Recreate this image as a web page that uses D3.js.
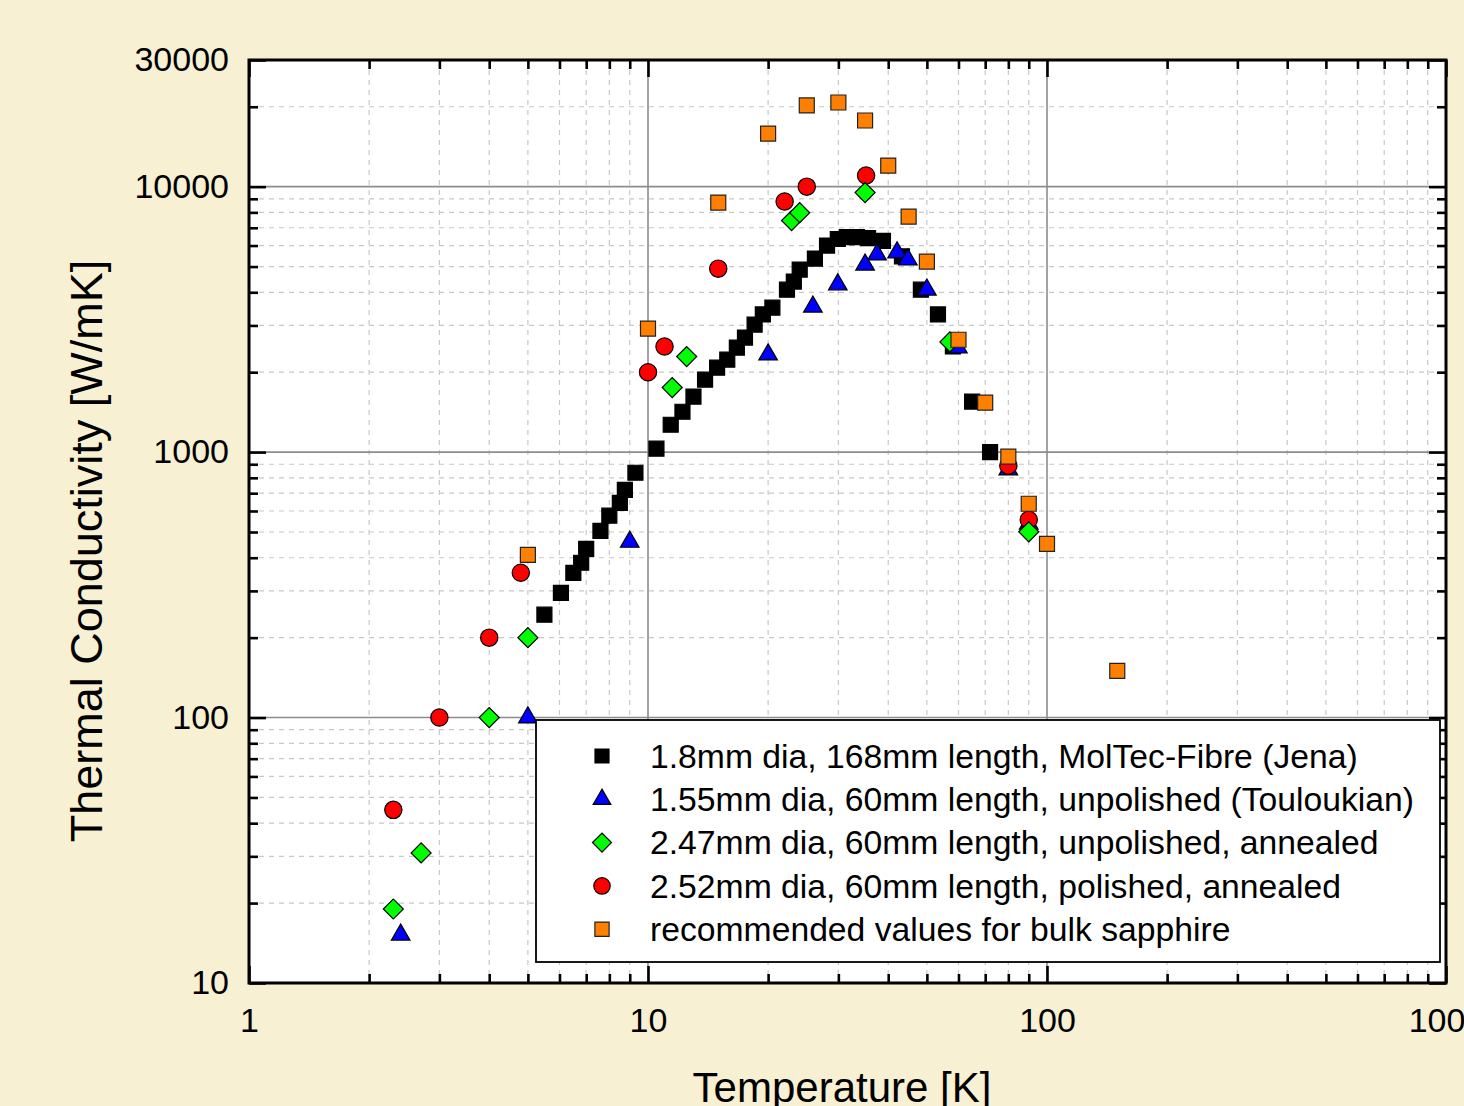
<!DOCTYPE html>
<html lang="en">
<head>
    <meta charset="UTF-8">
    <title>Thermal Conductivity of Sapphire</title>
    <script src="https://cdn.jsdelivr.net/npm/d3@7"></script>
    <style>
        body { margin: 0; background: #f7f0d2; }
        text { font-family: "Liberation Sans", Arial, sans-serif; fill: #000; }
    </style>
</head>
<body>
    <script>
        // temperature [K] and thermal conductivity [W/mK]
        const fibreT = [5.5, 6.05, 6.5, 6.8, 7.0, 7.6, 8.0, 8.5, 8.75, 9.3, 10.5, 11.4, 12.2, 13.0, 13.9, 14.9, 15.8, 16.7, 17.5, 18.5, 19.4, 20.5, 22.3, 23.2, 24.0, 26.2, 28.1, 29.9, 31.5, 33.4, 35.6, 38.8, 43.3, 48.3, 53.3, 58.1, 64.9, 72.0];
        const fibreK = [244, 295, 351, 383, 432, 505, 576, 644, 721, 836, 1030, 1268, 1419, 1618, 1875, 2080, 2230, 2475, 2700, 3020, 3300, 3500, 4090, 4390, 4870, 5360, 6000, 6350, 6450, 6450, 6400, 6250, 5460, 4090, 3300, 2500, 1550, 1000];

        const toulT = [2.4, 5, 9, 20, 25.9, 29.9, 35, 37.5, 42.1, 44.8, 50, 59.8, 80, 90];
        const toulK = [15.2, 100, 459, 2330, 3530, 4280, 5080, 5550, 5650, 5310, 4090, 2475, 860, 537];

        const annealT = [2.3, 2.7, 4, 5, 11.5, 12.5, 22.9, 24, 35, 57.1, 90];
        const annealK = [19, 30.9, 100, 200, 1750, 2290, 7450, 7980, 9500, 2600, 501];

        const polishT = [2.3, 3, 4, 4.8, 10, 11, 15, 22, 25, 35.2, 80, 90];
        const polishK = [44.9, 100, 200, 351, 2000, 2500, 4910, 8790, 10000, 11010, 889, 556];

        const bulkT = [5, 10, 15, 20, 25, 30, 35, 40, 45, 50, 60, 70, 80, 90, 100, 150];
        const bulkK = [410, 2920, 8710, 15850, 20230, 20750, 17750, 12010, 7710, 5220, 2650, 1535, 961, 639, 451, 150];

        const legendLabels = [
            "1.8mm dia, 168mm length, MolTec-Fibre (Jena)",
            "1.55mm dia, 60mm length, unpolished (Touloukian)",
            "2.47mm dia, 60mm length, unpolished, annealed",
            "2.52mm dia, 60mm length, polished, annealed",
            "recommended values for bulk sapphire"
        ];

        const xTicks = [1, 10, 100, 1000];
        const yTicks = [10, 100, 1000, 10000, 30000];

        const width = 1464, height = 1106;
        const pLeft = 249, pRight = 1446, pTop = 60, pBottom = 983;

        const x = d3.scaleLog().domain([1, 1000]).range([pLeft, pRight]);
        const y = d3.scaleLog().domain([10, 30000]).range([pBottom, pTop]);

        const minorsX = [1, 10, 100].flatMap(d => d3.range(2, 10).map(m => m * d));
        const minorsY = [10, 100, 1000].flatMap(d => d3.range(2, 10).map(m => m * d)).concat([20000]);
        const majorsX = [10, 100];
        const majorsY = [100, 1000, 10000];

        const svg = d3.select("body").append("svg").attr("width", width).attr("height", height).style("display", "block");
        svg.append("rect").attr("width", width).attr("height", height).attr("fill", "#f7f0d2");
        svg.append("rect").attr("x", pLeft).attr("y", pTop).attr("width", pRight - pLeft).attr("height", pBottom - pTop).attr("fill", "#fff");

        // grid
        const grid = svg.append("g");
        grid.selectAll(".mx").data(minorsX).enter().append("line")
            .attr("x1", d => x(d)).attr("x2", d => x(d)).attr("y1", pTop).attr("y2", pBottom)
            .attr("stroke", "#c8c8c8").attr("stroke-width", 1.2).attr("stroke-dasharray", "5,5");
        grid.selectAll(".my").data(minorsY).enter().append("line")
            .attr("y1", d => y(d)).attr("y2", d => y(d)).attr("x1", pLeft).attr("x2", pRight)
            .attr("stroke", "#c8c8c8").attr("stroke-width", 1.2).attr("stroke-dasharray", "5,5");
        grid.selectAll(".Mx").data(majorsX).enter().append("line")
            .attr("x1", d => x(d)).attr("x2", d => x(d)).attr("y1", pTop).attr("y2", pBottom)
            .attr("stroke", "#8c8c8c").attr("stroke-width", 1.6);
        grid.selectAll(".My").data(majorsY).enter().append("line")
            .attr("y1", d => y(d)).attr("y2", d => y(d)).attr("x1", pLeft).attr("x2", pRight)
            .attr("stroke", "#8c8c8c").attr("stroke-width", 1.6);

        // ticks, pointing inwards on all four sides
        function ticks(axis, pos, vals, len, labels) {
            const g = svg.append("g").attr("transform", pos)
                .call(axis.tickValues(vals).tickSize(-len).tickPadding(labels ? labels : 0)
                    .tickFormat(labels ? d3.format("d") : ""));
            g.select(".domain").remove();
            g.selectAll(".tick line").attr("stroke", "#000").attr("stroke-width", 2.6);
            g.selectAll(".tick text").attr("font-size", 34).attr("font-family", "Liberation Sans, Arial, sans-serif");
            return g;
        }
        ticks(d3.axisBottom(x), `translate(0,${pBottom})`, minorsX, 9);
        ticks(d3.axisBottom(x), `translate(0,${pBottom})`, xTicks, 17, 25);
        ticks(d3.axisTop(x), `translate(0,${pTop})`, minorsX, 9);
        ticks(d3.axisTop(x), `translate(0,${pTop})`, xTicks, 17);
        ticks(d3.axisLeft(y), `translate(${pLeft},0)`, minorsY, 9);
        ticks(d3.axisLeft(y), `translate(${pLeft},0)`, yTicks, 17, 20);
        ticks(d3.axisRight(y), `translate(${pRight},0)`, minorsY, 9);
        ticks(d3.axisRight(y), `translate(${pRight},0)`, yTicks, 17);

        svg.append("rect").attr("x", pLeft).attr("y", pTop).attr("width", pRight - pLeft).attr("height", pBottom - pTop)
            .attr("fill", "none").attr("stroke", "#000").attr("stroke-width", 3);

        // series
        const series = [
            {T: fibreT, K: fibreK, type: d3.symbolSquare, size: 225, rot: 0, fill: "#000", stroke: "#000"},
            {T: toulT, K: toulK, type: d3.symbolTriangle, size: 150, rot: 0, fill: "#0000ff", stroke: "#000"},
            {T: polishT, K: polishK, type: d3.symbolCircle, size: 235, rot: 0, fill: "#ff0000", stroke: "#000"},
            {T: annealT, K: annealK, type: d3.symbolSquare, size: 200, rot: 45, fill: "#00ff00", stroke: "#000"},
            {T: bulkT, K: bulkK, type: d3.symbolSquare, size: 225, rot: 0, fill: "#ff8000", stroke: "#222"}
        ];
        // legend order differs from draw order
        const legendOrder = [0, 1, 3, 2, 4];

        series.forEach(s => {
            const sym = d3.symbol().type(s.type).size(s.size);
            svg.append("g").selectAll("path").data(s.T.map((t, i) => [t, s.K[i]])).enter().append("path")
                .attr("d", sym)
                .attr("transform", d => `translate(${x(d[0])},${y(d[1])}) rotate(${s.rot})`)
                .attr("fill", s.fill).attr("stroke", s.stroke).attr("stroke-width", 1.2);
        });

        // legend
        const lg = svg.append("g");
        lg.append("rect").attr("x", 536).attr("y", 720).attr("width", 904).attr("height", 242)
            .attr("fill", "#fff").attr("stroke", "#000").attr("stroke-width", 1.8);
        legendOrder.forEach((si, i) => {
            const s = series[si];
            const cy = 756 + i * 43.3;
            const sym = si === 0 ? d3.symbol().type(s.type).size(196) : d3.symbol().type(s.type).size(s.size * 0.9);
            lg.append("path").attr("d", sym)
                .attr("transform", `translate(602,${cy}) rotate(${s.rot})`)
                .attr("fill", s.fill).attr("stroke", s.stroke).attr("stroke-width", 1.2);
            lg.append("text").attr("x", 650).attr("y", cy).attr("dy", "0.35em")
                .attr("font-size", 33.7).text(legendLabels[i]);
        });

        // axis titles
        svg.append("text").attr("x", 842).attr("y", 1102).attr("text-anchor", "middle")
            .attr("font-size", 42).text("Temperature [K]");
        svg.append("text").attr("transform", "translate(102,551) rotate(-90)").attr("text-anchor", "middle")
            .attr("font-size", 45).text("Thermal Conductivity [W/mK]");
    </script>
</body>
</html>
